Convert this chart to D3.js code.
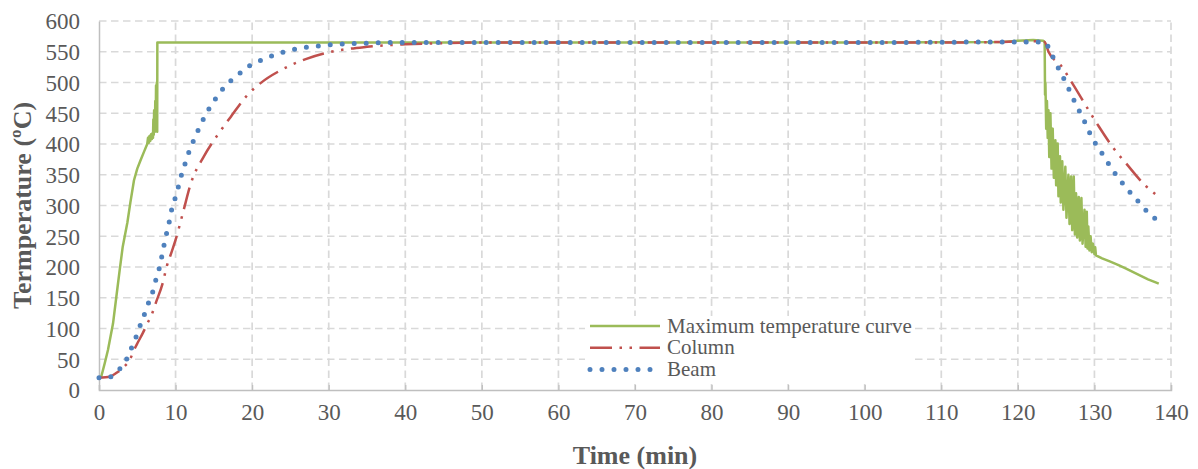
<!DOCTYPE html>
<html>
<head>
<meta charset="utf-8">
<script src="https://cdn.jsdelivr.net/npm/d3@7"></script>
<style>
  body { margin: 0; background: #fff; }
  svg { display: block; font-family: "Liberation Serif", "Times New Roman", serif; }
</style>
</head>
<body>
<svg width="1198" height="469"></svg>
<script>

// time (min), temperature (ºC)
var maxCurve = [
  [0,20],[0.3,22],[0.74,43],[1.17,65],[1.83,108],[2.27,152],[2.7,195],[3.1,233],[3.7,272],
  [4.1,305],[4.57,341],[5,360],[5.44,374],[5.9,388],[6.3,400],
  [6.4,410],[6.5,402],[6.6,413],[6.7,405],[6.8,416],[6.9,408],[7.0,418],[7.05,410],
  [7.1,440],[7.15,415],[7.2,455],[7.3,420],[7.35,470],[7.4,425],[7.45,495],[7.5,430],
  [7.55,500],[7.6,420],[7.62,565],[20,565],[60,565],[100,565],[118,566],[120,568],
  [122,569],[123.3,568],[123.5,566],
  [123.55,480],[123.6,500],[123.7,425],[123.8,470],[123.9,410],[124.0,455],[124.1,379],
  [124.25,450],[124.4,360],[124.55,425],[124.7,345],[124.9,406],[125.0,333],[125.2,401],
  [125.3,315],[125.5,380],[125.6,305],[125.8,372],[125.95,293],[126.2,363],[126.35,280],
  [126.6,350],[126.75,270],[126.95,347],[127.1,260],[127.3,347],[127.45,253],[127.6,320],
  [127.75,248],[127.95,314],[128.1,243],[128.3,312],[128.45,238],[128.7,293],[128.85,233],
  [129.0,290],[129.1,230],[129.2,266],[129.35,227],[129.5,250],[129.65,224],[129.8,238],
  [130,221],[130.1,232],[130.2,219],[131,214],[132,209],[133,204],[134,198],[135,192],
  [136,186],[137,180],[138,175],[138.4,173]
];

var columnCurve = [
  [0,20],[1.45,22],[2.3,28],[3.2,37],[4.1,51],[4.5,63],[5.1,78],[5.7,92],[6.3,108],[6.9,123],
  [7.4,141],[8.3,173],[8.85,201],[9.5,225],[10,244],[11,290],[12,336],[13.7,380],[15.5,415],
  [17.2,444],[19.2,477],[21.1,499],[23.9,521],[27,538],[30,549],[35,558],[40,562],[45,564],
  [50,565],[80,565],[110,565],[118,566],[122,567],[123.5,566],[124,550],[125.6,528],
  [127.1,499],[129.1,458],[130.6,428],[132.5,393],[134.3,366],[136.6,333],[138,318]
];

var beamCurve = [
  [0,20],[1,20],[1.6,22],[2.7,34],[3.6,50],[4.2,67],[4.8,85],[5.35,104],[5.9,122],[6.45,141],
  [7,159],[7.4,178],[7.85,197],[8.2,217],[8.5,236],[8.85,256],[9.2,275],[9.5,294],[9.97,313],
  [10.4,332],[10.8,351],[11.3,370],[11.8,389],[12.4,407],[13,424],[13.7,442],[14.45,459],
  [15.3,475],[16.2,490],[17.3,504],[18.4,515],[19.5,526],[20.8,534],[22.1,541],[23.5,547],
  [24.8,552],[27,557],[30,561],[35,564],[40,565],[60,565],[100,565],[120,566],[123.5,566],
  [124.25,550],[124.9,533],[125.6,516],[126.3,499],[126.95,481],[127.6,464],[128.3,447],
  [129,429],[129.6,412],[130.4,396],[131.3,379],[132.1,363],[133,347],[133.95,332],
  [134.9,318],[135.9,304],[136.9,290],[138,278]
];

var xTicks = d3.range(0, 141, 10);
var yTicks = d3.range(0, 601, 50);

var series = [
  { name: "Maximum temperature curve", data: maxCurve, color: "#9BBB59", width: 2.5, dash: null, cap: "butt", curve: d3.curveLinear },
  { name: "Column", data: columnCurve, color: "#C0504D", width: 2.5, dash: "22,7.5,2.5,7.5,2.5,7.5", cap: "butt", curve: d3.curveMonotoneX },
  { name: "Beam", data: beamCurve, color: "#4F81BD", width: 5, dash: "0,12", cap: "round", curve: d3.curveMonotoneX }
];

var svg = d3.select("svg"),
    margin = {top: 21, right: 27, bottom: 79, left: 99},
    width = +svg.attr("width") - margin.left - margin.right,
    height = +svg.attr("height") - margin.top - margin.bottom;

var x = d3.scaleLinear().domain([0, 140]).range([margin.left, margin.left + width]);
var y = d3.scaleLinear().domain([0, 600]).range([margin.top + height, margin.top]);

// gridlines
var grid = svg.append("g").attr("class", "grid")
    .attr("stroke", "#d9d9d9")
    .attr("stroke-width", 1.7)
    .attr("stroke-dasharray", "7.5,4.5");

grid.selectAll("line.h")
    .data(yTicks.filter(function(d) { return d > 0; }))
    .enter().append("line")
      .attr("class", "h")
      .attr("x1", x(0)).attr("x2", x(140))
      .attr("y1", function(d) { return y(d); })
      .attr("y2", function(d) { return y(d); });

grid.selectAll("line.v")
    .data(xTicks.filter(function(d) { return d > 0; }))
    .enter().append("line")
      .attr("class", "v")
      .attr("y1", y(0)).attr("y2", y(600))
      .attr("x1", function(d) { return x(d); })
      .attr("x2", function(d) { return x(d); });

// axes
var xAxis = svg.append("g")
    .attr("transform", "translate(0," + y(0) + ")")
    .call(d3.axisBottom(x).tickValues(xTicks).tickSize(-5).tickPadding(14).tickFormat(d3.format("d")));

var yAxis = svg.append("g")
    .attr("transform", "translate(" + x(0) + ",0)")
    .call(d3.axisLeft(y).tickValues(yTicks).tickSize(0).tickPadding(19).tickFormat(d3.format("d")));

[xAxis, yAxis].forEach(function(a) {
  a.select(".domain").attr("stroke", "#bfbfbf").attr("stroke-width", 1.5);
  a.selectAll(".tick line").attr("stroke", "#bfbfbf").attr("stroke-width", 1.2);
  a.selectAll(".tick text")
      .attr("fill", "#595959")
      .style("font-family", "Liberation Serif")
      .style("font-size", "23px");
});
xAxis.selectAll(".tick text").attr("dy", "0.71em");
yAxis.selectAll(".tick text").attr("dy", "0.34em");

// axis titles
svg.append("text")
    .attr("x", (x(0) + x(140)) / 2)
    .attr("y", 464)
    .attr("text-anchor", "middle")
    .attr("fill", "#595959")
    .style("font-size", "26px")
    .style("font-weight", "bold")
    .text("Time (min)");

svg.append("text")
    .attr("transform", "translate(31," + ((y(0) + y(600)) / 2) + ") rotate(-90)")
    .attr("text-anchor", "middle")
    .attr("fill", "#595959")
    .style("font-size", "26px")
    .style("font-weight", "bold")
    .text("Termperature (ºC)");

// series
var lineGen = d3.line()
    .x(function(d) { return x(d[0]); })
    .y(function(d) { return y(d[1]); });

svg.append("g").attr("class", "series")
    .selectAll("path")
    .data(series)
    .enter().append("path")
      .attr("d", function(d) { return lineGen.curve(d.curve)(d.data); })
      .attr("fill", "none")
      .attr("stroke", function(d) { return d.color; })
      .attr("stroke-width", function(d) { return d.width; })
      .attr("stroke-dasharray", function(d) { return d.dash; })
      .attr("stroke-linecap", function(d) { return d.cap; })
      .attr("stroke-linejoin", "round");

// legend
var legend = svg.append("g").attr("class", "legend");

legend.append("rect")
    .attr("x", 585).attr("y", 316)
    .attr("width", 328).attr("height", 68)
    .attr("fill", "#fff");

var item = legend.selectAll("g")
    .data(series)
    .enter().append("g")
      .attr("transform", function(d, i) { return "translate(590," + (326 + i * 21.7) + ")"; });

item.append("line")
    .attr("x1", 0).attr("x2", 70)
    .attr("stroke", function(d) { return d.color; })
    .attr("stroke-width", function(d) { return d.width; })
    .attr("stroke-dasharray", function(d) { return d.dash; })
    .attr("stroke-linecap", function(d) { return d.cap; });

item.append("text")
    .attr("x", 77)
    .attr("dy", "0.32em")
    .attr("fill", "#595959")
    .style("font-size", "21px")
    .text(function(d) { return d.name; });

</script>
</body>
</html>
